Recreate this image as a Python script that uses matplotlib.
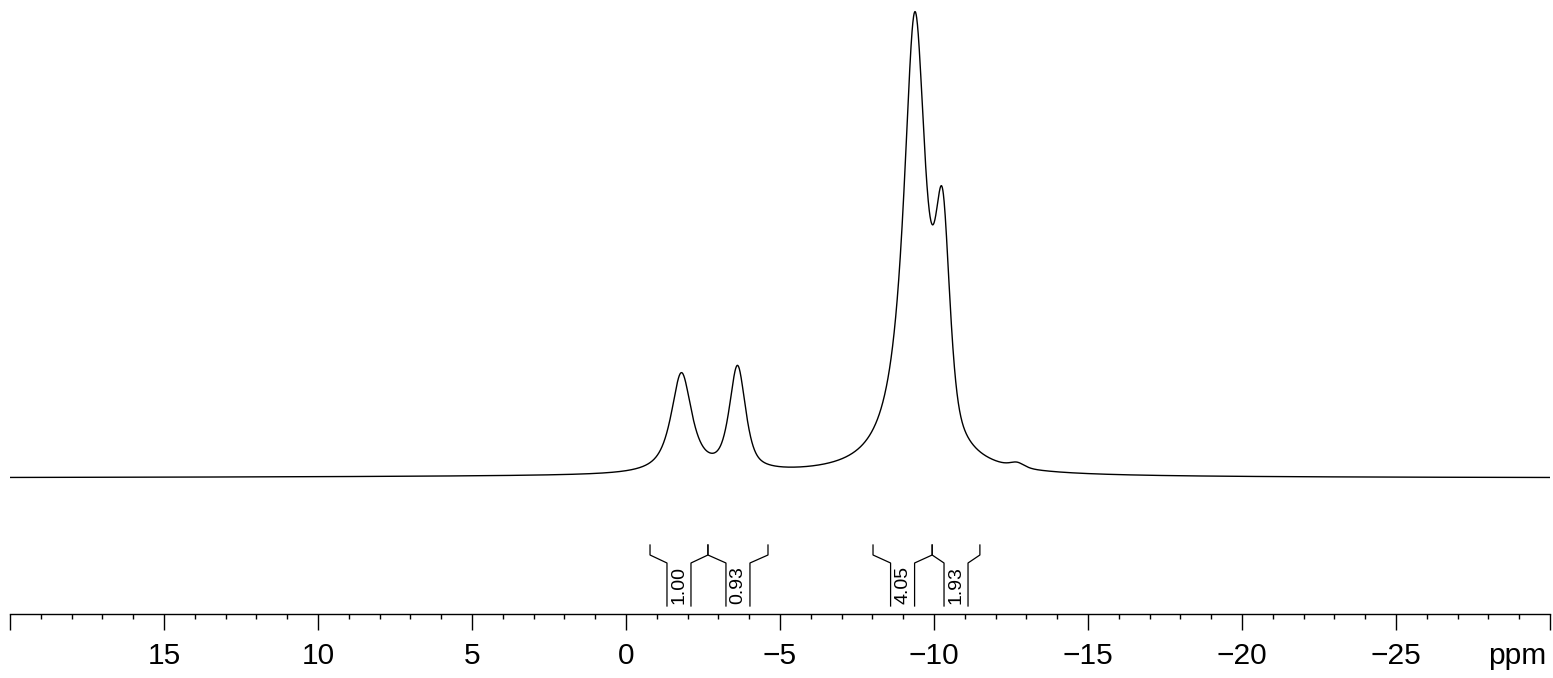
import numpy as np
import matplotlib
matplotlib.use("Agg")
import matplotlib.pyplot as plt
from matplotlib.ticker import MultipleLocator

plt.rcParams['font.family'] = ['Liberation Sans', 'DejaVu Sans']

# peak list: position (ppm), height, width (ppm), lorentz fraction
peak_pos = [-1.80, -3.62, -9.38, -10.28, -12.70, -3.0]
peak_height = [100, 104, 456, 196, 5, 2.0]
peak_width = [0.80, 0.62, 0.90, 0.55, 0.55, 30.0]
peak_eta = [0.85, 0.65, 1.0, 0.5, 0.5, 1.0]

# integral regions (ppm start, ppm end) and values
int_start = [-0.78, -2.66, -8.02, -9.94]
int_end = [-2.66, -4.61, -9.94, -11.49]
int_value = ["1.00", "0.93", "4.05", "1.93"]

major_ticks = [15, 10, 5, 0, -5, -10, -15, -20, -25]
tick_labels = ["15", "10", "5", "0", "\u22125", "\u221210", "\u221215", "\u221220", "\u221225"]

ppm = np.linspace(20, -30, 6000)
spec = np.zeros_like(ppm)
for p, h, w, eta in zip(peak_pos, peak_height, peak_width, peak_eta):
    lor = (w / 2) ** 2 / ((ppm - p) ** 2 + (w / 2) ** 2)
    gau = np.exp(-4 * np.log(2) * ((ppm - p) / w) ** 2)
    spec += h * (eta * lor + (1 - eta) * gau)

fig = plt.figure(figsize=(15.53, 6.78), dpi=100)
ax = fig.add_axes([10 / 1553, (678 - 614) / 678, 1540 / 1553, 614 / 678])

ax.plot(ppm, spec, color="black", lw=1.0)
ax.set_xlim(20, -30)
base = 478.2  # pixel row of the zero level
ax.set_ylim(base - 614, base)

def py(ypix):
    return base - ypix

dx = 12 / 30.8
for a, b, val in zip(int_start, int_end, int_value):
    mid = (a + b) / 2
    ax.plot([a, a, mid + dx, mid + dx], [py(545), py(555), py(563), py(606)], color="black", lw=0.9)
    ax.plot([b, b, mid - dx, mid - dx], [py(545), py(555), py(563), py(606)], color="black", lw=0.9)
    ax.text(mid, py(604), val, rotation=90, ha="center", va="bottom", fontsize=14)

for s in ["top", "left", "right"]:
    ax.spines[s].set_visible(False)
ax.spines["bottom"].set_linewidth(1.0)
ax.set_yticks([])
ax.set_xticks(major_ticks + [20, -30])
ax.set_xticklabels(tick_labels + ["", ""])
ax.xaxis.set_minor_locator(MultipleLocator(1))
ax.tick_params(axis="x", which="major", length=11.5, width=1.0, labelsize=21.5, pad=9)
ax.tick_params(axis="x", which="minor", length=3.8, width=1.0)
ax.annotate("ppm", xy=(-28.93, 0), xycoords=("data", "axes fraction"),
            xytext=(0, -20.5), textcoords="offset points",
            ha="center", va="top", fontsize=21.5)

fig.savefig("out.png", dpi=100)
